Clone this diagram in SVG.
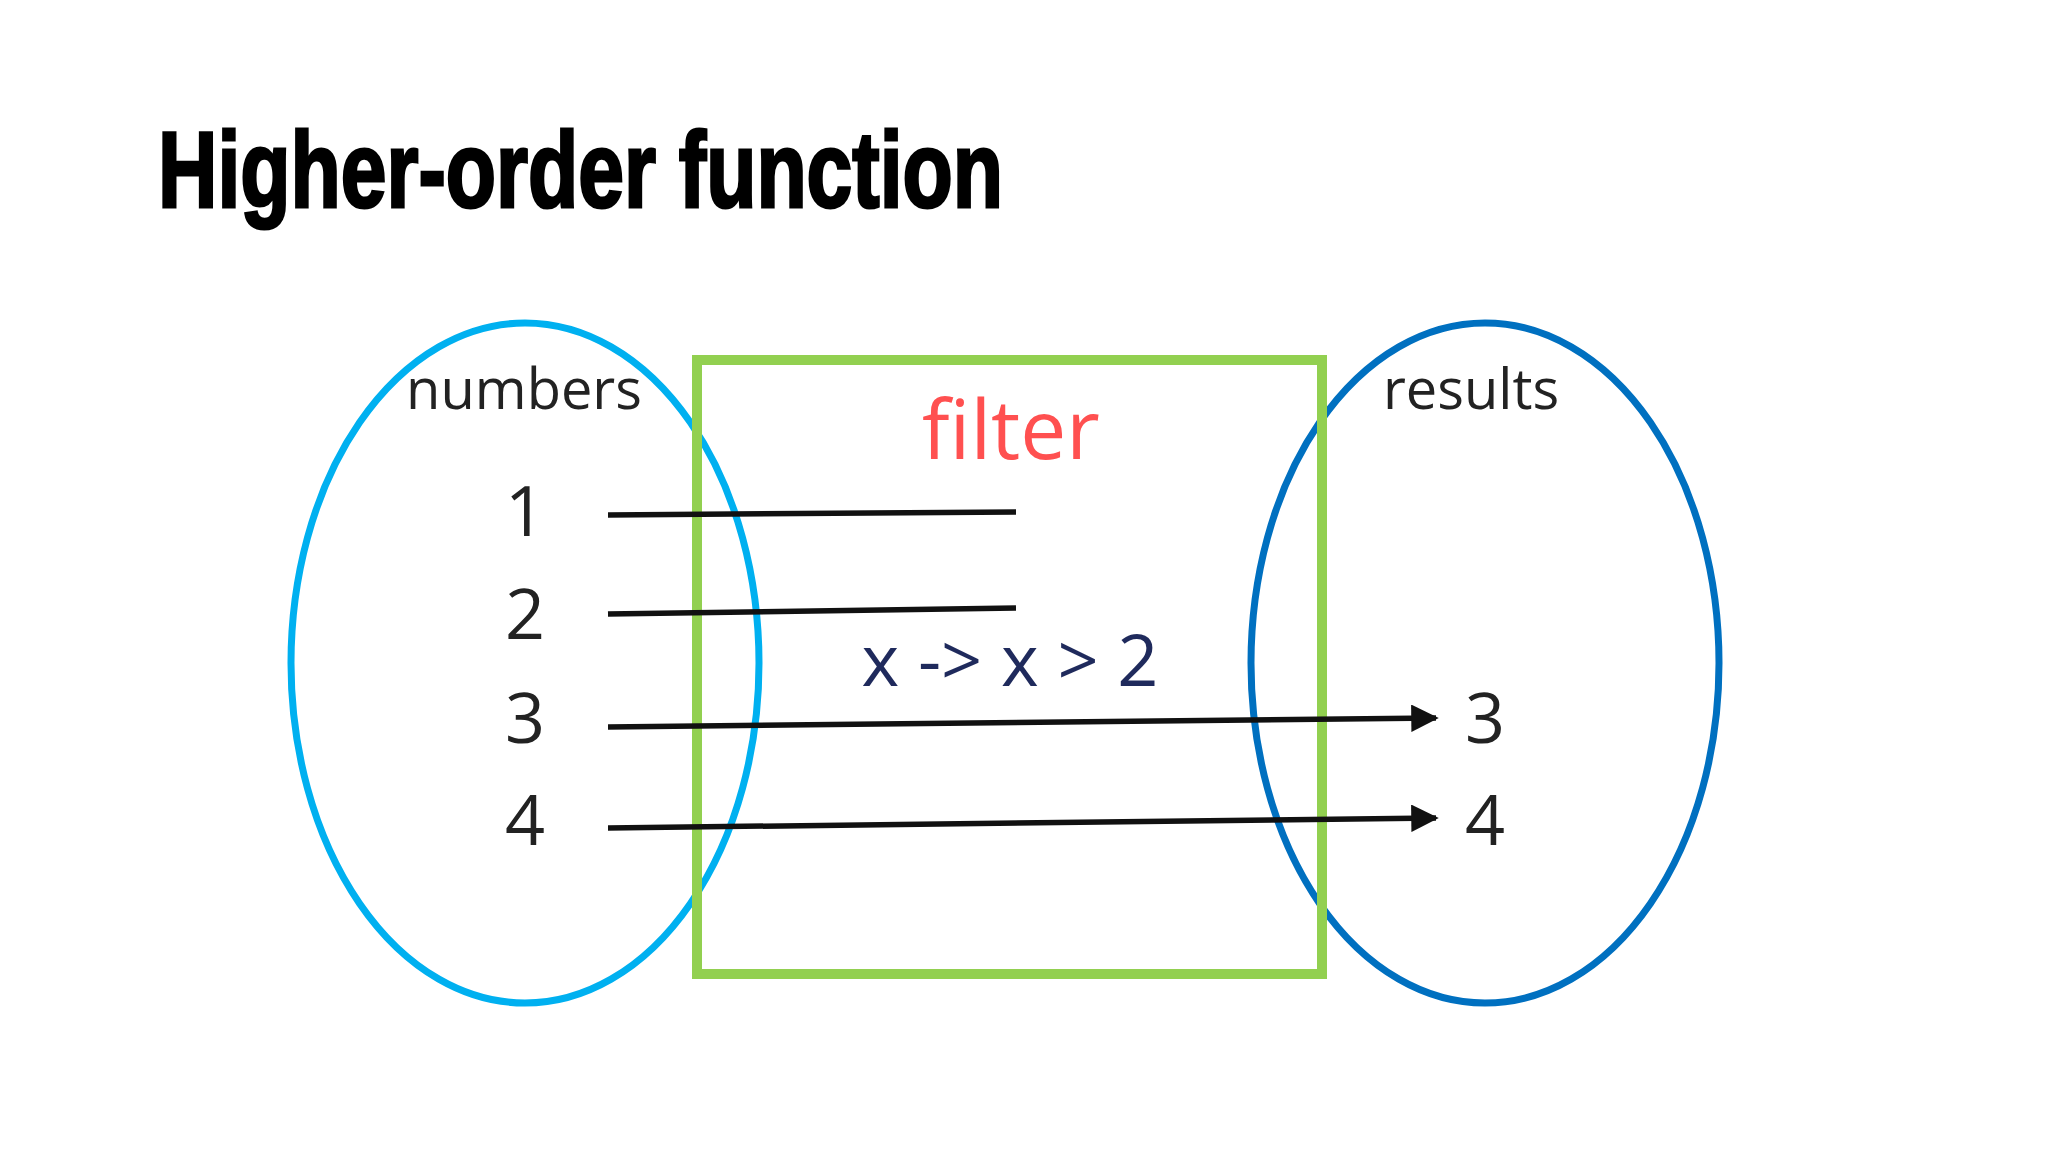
<svg xmlns="http://www.w3.org/2000/svg" width="2048" height="1152" viewBox="0 0 2048 1152">
<style>
.t{font-family:"Open Sans","Liberation Sans",sans-serif;fill:#222;text-anchor:middle}
.n{font-size:70px}
.l{stroke:#111;stroke-width:5.5;fill:none}
</style>
<defs><marker id="a" viewBox="0 0 10 10" refX="9" refY="5" markerWidth="5.5" markerHeight="5" orient="auto" markerUnits="strokeWidth"><path d="M0,0L10,5L0,10z" fill="#111"/></marker></defs>
<rect width="2048" height="1152" fill="#fff"/>
<text x="158" y="207" font-family="Liberation Sans,sans-serif" font-weight="bold" font-size="108" textLength="845" lengthAdjust="spacingAndGlyphs" fill="#000" stroke="#000" stroke-width="3">Higher-order function</text>
<g id="numbers"><ellipse cx="525" cy="663" rx="234" ry="340" fill="none" stroke="#00B0F0" stroke-width="7"/>
<text class="t" x="524" y="409" font-size="56">numbers</text>
<text class="t n" x="525" y="536">1</text><text class="t n" x="525" y="639">2</text><text class="t n" x="525" y="743">3</text><text class="t n" x="525" y="845">4</text></g>
<g id="results"><ellipse cx="1485" cy="663" rx="234" ry="340" fill="none" stroke="#0070C0" stroke-width="7"/>
<text class="t" x="1471" y="409" font-size="56">results</text>
<text class="t n" x="1485" y="743">3</text><text class="t n" x="1485" y="845">4</text></g>
<g id="filter"><rect x="697" y="360" width="625" height="614" fill="none" stroke="#92D050" stroke-width="10"/>
<text class="t" x="1011" y="459" font-size="82" fill="#FF5050" style="fill:#FF5050">filter</text>
<text class="t" x="1010" y="686" font-size="72" style="fill:#1F2A5C">x -&gt; x &gt; 2</text></g>
<g id="connectors">
<line class="l" x1="608" y1="515" x2="1016" y2="512"/>
<line class="l" x1="608" y1="614" x2="1016" y2="608"/>
<line class="l" x1="608" y1="727" x2="1436" y2="718" marker-end="url(#a)"/>
<line class="l" x1="608" y1="828" x2="1436" y2="818" marker-end="url(#a)"/>
</g>
</svg>
